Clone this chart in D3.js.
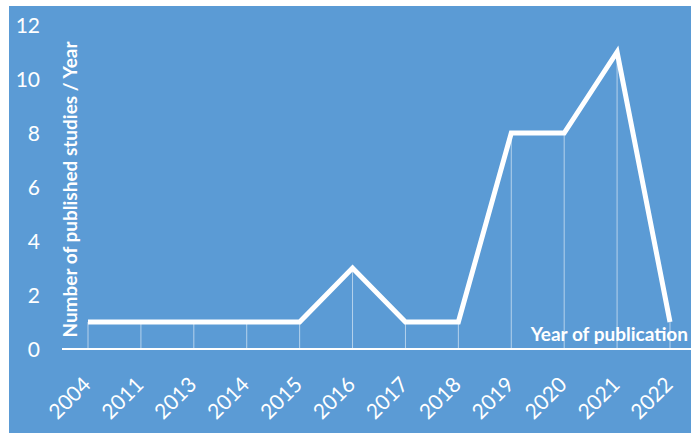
<!DOCTYPE html>
<html>
<head>
<meta charset="utf-8">
<script src="https://cdn.jsdelivr.net/npm/d3@7"></script>
<style>
  body { margin: 0; background: #fff; }
  svg text { font-family: Lato, "Open Sans", sans-serif; fill: #fff; }
</style>
</head>
<body>
<div id="chart"></div>
<script>
const years = ["2004","2011","2013","2014","2015","2016","2017","2018","2019","2020","2021","2022"]
const studies = [1,1,1,1,1,3,1,1,8,8,11,1]
const yTicks = [0,2,4,6,8,10,12]

const width = 691, height = 433

const svg = d3.select("#chart").append("svg")
    .attr("width", width)
    .attr("height", height)

svg.append("rect")
    .attr("x", 9).attr("y", 6)
    .attr("width", width - 9).attr("height", height - 6)
    .attr("fill", "#5b9bd5")

const x = d3.scalePoint()
    .domain(years)
    .range([88, 670])

const y = d3.scaleLinear()
    .domain([0, 12])
    .range([349, 25])

// y tick labels, no axis line
svg.append("g")
    .selectAll("text")
    .data(yTicks)
    .join("text")
    .attr("x", 40)
    .attr("y", d => y(d))
    .attr("dy", "0.36em")
    .attr("text-anchor", "end")
    .style("font-size", "21px")
    .text(d => d)

// drop lines
svg.append("g")
    .selectAll("line")
    .data(years)
    .join("line")
    .attr("x1", d => x(d)).attr("x2", d => x(d))
    .attr("y1", (d, i) => y(studies[i]))
    .attr("y2", y(0))
    .attr("stroke", "#fff")
    .attr("stroke-opacity", 0.55)
    .attr("stroke-width", 1)

// x axis line
svg.append("line")
    .attr("x1", 62).attr("x2", width)
    .attr("y1", y(0)).attr("y2", y(0))
    .attr("stroke", "#fff")
    .attr("stroke-width", 2)

// x labels
svg.append("g")
    .selectAll("text")
    .data(years)
    .join("text")
    .attr("transform", d => `translate(${x(d) + 4},${y(0) + 37}) rotate(-45)`)
    .attr("text-anchor", "end")
    .style("font-size", "21px")
    .text(d => d)

const line = d3.line()
    .x((d, i) => x(years[i]))
    .y(d => y(d))

svg.append("path")
    .datum(studies)
    .attr("d", line)
    .attr("fill", "none")
    .attr("stroke", "#fff")
    .attr("stroke-width", 5)
    .attr("stroke-linejoin", "miter")

svg.append("text")
    .attr("transform", `translate(77,${(42 + 337) / 2}) rotate(-90)`)
    .attr("text-anchor", "middle")
    .style("font-size", "19px")
    .style("font-weight", "bold")
    .text("Number of published studies / Year")

svg.append("text")
    .attr("x", 688)
    .attr("y", 341)
    .attr("text-anchor", "end")
    .style("font-size", "19px")
    .style("font-weight", "bold")
    .text("Year of publication")
</script>
</body>
</html>
